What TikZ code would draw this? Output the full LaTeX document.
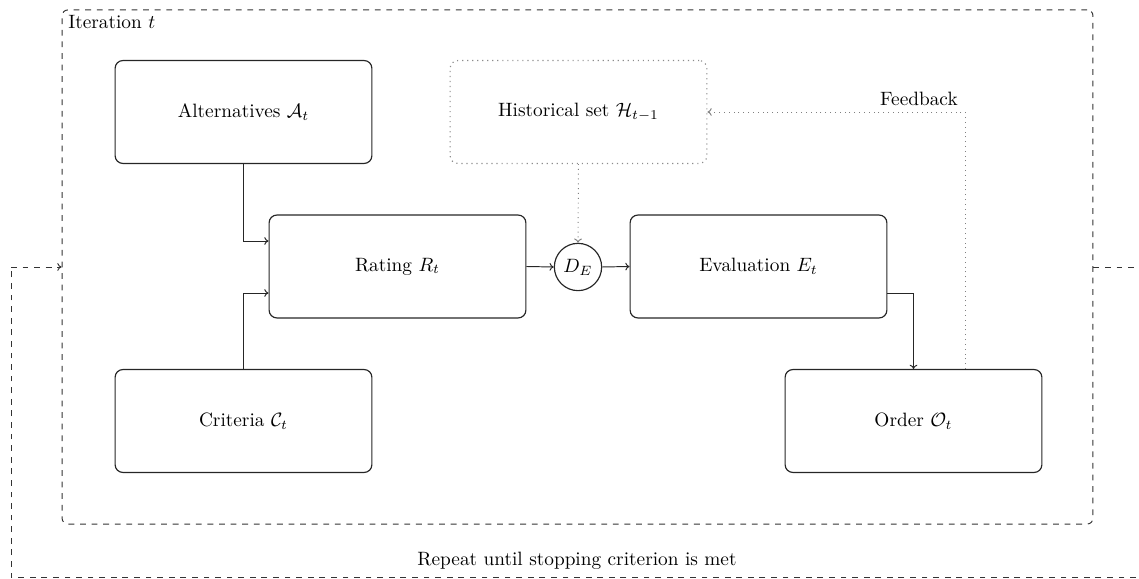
\documentclass[tikz,border=0pt]{standalone}
\usetikzlibrary{arrows.meta}
\begin{document}
\begin{tikzpicture}[x=0.518pt,y=-0.518pt,
  procbox/.style={draw=black!85,line width=0.6pt,rounded corners=4pt,minimum width=133pt,minimum height=53.3pt,inner sep=0pt,align=center},
  histbox/.style={draw=black!45,dotted,line width=0.6pt,rounded corners=4pt,minimum width=133pt,minimum height=53.3pt,inner sep=0pt},
  conn/.style={draw=black!85,line width=0.5pt,-{To[length=2.2pt,width=4pt]}},
  fb/.style={draw=black!50,dotted,line width=0.5pt,-{To[length=2.2pt,width=4pt]}},
  loopline/.style={draw=black!80,dashed,line width=0.5pt},
  txt/.style={inner sep=1pt}]
\useasboundingbox (0,0) rectangle (1139,579);
% iteration frame
\node[draw=black!80,dashed,line width=0.5pt,rounded corners=3pt,minimum width=534pt,minimum height=266.3pt,inner sep=0pt] (iter) at (577.5,267) {};
\node[txt,anchor=north west] (itlabel) at (66,13) {Iteration $t$};
% boxes
\node[procbox] (alt) at (243.5,112) {Alternatives $\mathcal{A}_t$};
\node[procbox] (rat) at (397.5,266.5) {Rating $R_t$};
\node[procbox] (cri) at (243.5,421) {Criteria $\mathcal{C}_t$};
\node[histbox] (hist) at (578.5,112) {Historical set $\mathcal{H}_{t-1}$};
\node[draw=black!85,line width=0.6pt,circle,minimum size=24.5pt,inner sep=0pt] (de) at (578,267) {$D_E$};
\node[procbox] (eva) at (758.5,266.5) {Evaluation $E_t$};
\node[procbox] (ord) at (913.5,421) {Order $\mathcal{O}_t$};
% connectors
\coordinate (altdown) at (243.5,241);
\coordinate (criup) at (243.5,293);
\draw[conn] (alt.south) -- (altdown) -- (altdown -| rat.west);
\draw[conn] (cri.north) -- (criup) -- (criup -| rat.west);
\draw[conn] (rat.east) -- (de.west);
\draw[conn] (de.east) -- (eva.west);
\draw[fb] (hist.south) -- (de.north);
\coordinate (evaout) at (eva.east |- 0,293);
\draw[conn] (evaout) -| (ord.north);
\coordinate (fbtop) at (965,112);
\draw[fb] (ord.north -| fbtop) -- (fbtop) -- (hist.east);
\node[txt,anchor=south east] (fblabel) at (960,108) {Feedback};
% outer loop
\coordinate (lr) at (1145,267);
\coordinate (lbr) at (1145,577);
\coordinate (lbl) at (11,577);
\coordinate (ltl) at (11,267);
\draw[loopline] (iter.east) -- (lr) -- (lbr) -- (lbl) -- (ltl);
\draw[loopline,-{To[length=2.2pt,width=4pt]}] (ltl) -- (iter.west);
\node[txt] (rep) at (577,561) {Repeat until stopping criterion is met};
\end{tikzpicture}
\end{document}
